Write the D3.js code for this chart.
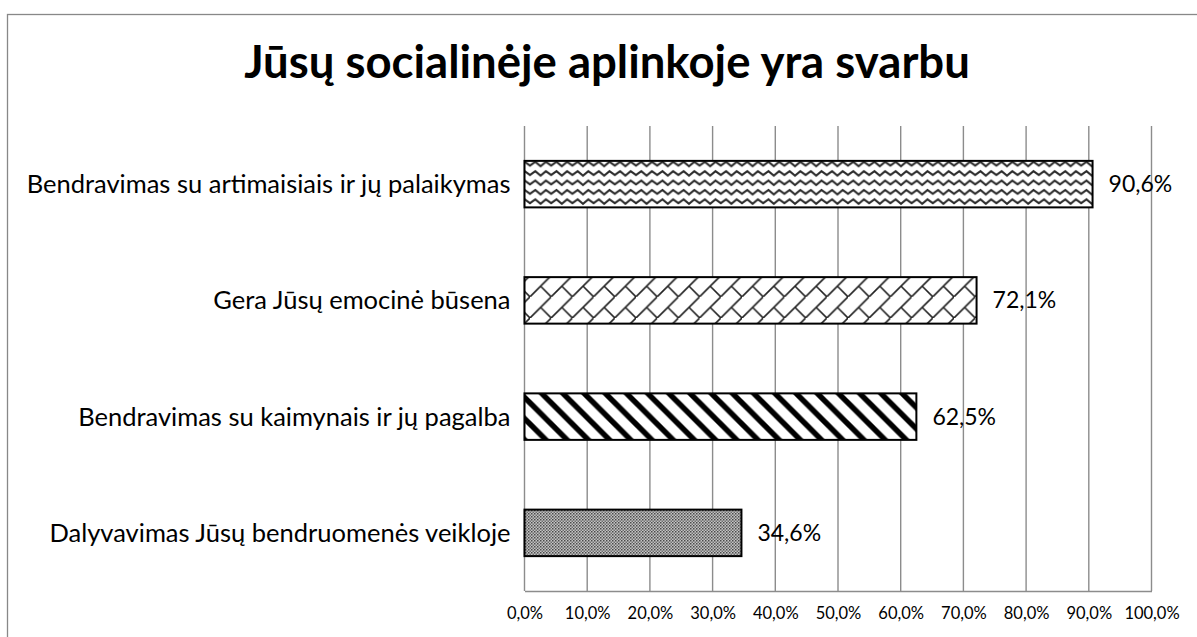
<!DOCTYPE html>
<html>
<head>
<meta charset="utf-8">
<script src="https://cdn.jsdelivr.net/npm/d3@7"></script>
<style>
  body { margin: 0; background: #fff; }
  text { font-family: Lato, "Open Sans", sans-serif; fill: #000; }
</style>
</head>
<body>
<script>
var width = 1197;
var height = 637;

// data
var categories = [
    "Bendravimas su artimaisiais ir jų palaikymas",
    "Gera Jūsų emocinė būsena",
    "Bendravimas su kaimynais ir jų pagalba",
    "Dalyvavimas Jūsų bendruomenės veikloje"
];
var values = [90.6, 72.1, 62.5, 34.6];
var valueLabels = ["90,6%", "72,1%", "62,5%", "34,6%"];
var tickValues = [0, 10, 20, 30, 40, 50, 60, 70, 80, 90, 100];
var tickLabels = ["0,0%", "10,0%", "20,0%", "30,0%", "40,0%", "50,0%", "60,0%", "70,0%", "80,0%", "90,0%", "100,0%"];
var patterns = ["wave", "brick", "stripe", "dots"];
var title = "Jūsų socialinėje aplinkoje yra svarbu";

var plotLeft = 524.5, plotRight = 1151.5, plotTop = 126, plotBottom = 591;

var svg = d3.select("body")
    .append("svg")
    .attr("width", width)
    .attr("height", height);

var defs = svg.append("defs");

// wavy lines
var pWave = defs.append("pattern")
    .attr("id", "wave")
    .attr("patternUnits", "userSpaceOnUse")
    .attr("width", 21.2)
    .attr("height", 9.4);
pWave.append("rect").attr("width", 21.2).attr("height", 9.4).attr("fill", "#fff");
pWave.append("path")
    .attr("d", "M-1,6.5 L5.3,2 L10.6,6.5 L15.9,2 L22.2,6.5")
    .attr("fill", "none")
    .attr("stroke", "#2a2a2a")
    .attr("stroke-width", 2);

// diagonal brick
var pBrick = defs.append("pattern")
    .attr("id", "brick")
    .attr("patternUnits", "userSpaceOnUse")
    .attr("width", 21.2)
    .attr("height", 21.2);
pBrick.append("rect").attr("width", 21.2).attr("height", 21.2).attr("fill", "#fff");
pBrick.append("path")
    .attr("d", "M-2,23.2 L23.2,-2 M10.6,10.6 L23.2,23.2 M-2,-2 L0,0")
    .attr("fill", "none")
    .attr("stroke", "#222")
    .attr("stroke-width", 1.6);

// wide downward diagonal
var pStripe = defs.append("pattern")
    .attr("id", "stripe")
    .attr("patternUnits", "userSpaceOnUse")
    .attr("width", 21.2)
    .attr("height", 21.2);
pStripe.append("rect").attr("width", 21.2).attr("height", 21.2).attr("fill", "#fff");
pStripe.append("path")
    .attr("d", "M-10.6,-10.6 L31.8,31.8 M-10.6,10.6 L10.6,31.8 M10.6,-10.6 L31.8,10.6")
    .attr("stroke", "#000")
    .attr("stroke-width", 5.5);

// fine dots
var pDots = defs.append("pattern")
    .attr("id", "dots")
    .attr("patternUnits", "userSpaceOnUse")
    .attr("width", 3)
    .attr("height", 3);
pDots.append("rect").attr("width", 3).attr("height", 3).attr("fill", "#c4c4c4");
pDots.append("rect").attr("width", 1.5).attr("height", 1.5).attr("fill", "#4a4a4a");
pDots.append("rect").attr("x", 1.5).attr("y", 1.5).attr("width", 1.5).attr("height", 1.5).attr("fill", "#6e6e6e");

// chart border
svg.append("rect")
    .attr("x", 7.5)
    .attr("y", 14.5)
    .attr("width", 1300)
    .attr("height", 700)
    .attr("fill", "none")
    .attr("stroke", "#888")
    .attr("stroke-width", 1.3);

svg.append("text")
    .attr("x", 607)
    .attr("y", 78)
    .attr("text-anchor", "middle")
    .style("font-size", "45.5px")
    .style("font-weight", "bold")
    .text(title);

var x = d3.scaleLinear().domain([0, 100]).range([plotLeft, plotRight]);
var y = d3.scaleBand().domain(categories).range([plotTop, plotBottom]).paddingInner(0.6).paddingOuter(0.3);

// gridlines
svg.append("g")
    .selectAll("line")
    .data(tickValues)
    .join("line")
    .attr("x1", d => x(d))
    .attr("x2", d => x(d))
    .attr("y1", plotTop)
    .attr("y2", plotBottom)
    .attr("stroke", "#8c8c8c")
    .attr("stroke-width", 1.4);

// x axis
var xAxis = d3.axisBottom(x)
    .tickValues(tickValues)
    .tickFormat((d, i) => tickLabels[i])
    .tickSize(0)
    .tickPadding(16);
var gx = svg.append("g")
    .attr("transform", "translate(0," + plotBottom + ")")
    .call(xAxis);
gx.select(".domain").attr("stroke", "#8c8c8c").attr("stroke-width", 1.4);
gx.selectAll("text")
    .style("font-size", "16.5px")
    .style("font-family", "Lato, 'Open Sans', sans-serif")
    .attr("fill", "#000");

// category labels
svg.append("g")
    .selectAll("text")
    .data(categories)
    .join("text")
    .attr("x", plotLeft - 14)
    .attr("y", d => y(d) + y.bandwidth() / 2)
    .attr("dy", "0.35em")
    .attr("text-anchor", "end")
    .style("font-size", "25.5px")
    .text(d => d);

// bars
svg.append("g")
    .selectAll("rect")
    .data(values)
    .join("rect")
    .attr("x", x(0))
    .attr("y", (d, i) => y(categories[i]))
    .attr("width", d => x(d) - x(0))
    .attr("height", y.bandwidth())
    .attr("fill", (d, i) => "url(#" + patterns[i] + ")")
    .attr("stroke", "#000")
    .attr("stroke-width", 2);

// value labels
svg.append("g")
    .selectAll("text")
    .data(values)
    .join("text")
    .attr("x", d => x(d) + 16)
    .attr("y", (d, i) => y(categories[i]) + y.bandwidth() / 2)
    .attr("dy", "0.35em")
    .style("font-size", "23px")
    .text((d, i) => valueLabels[i]);
</script>
</body>
</html>
